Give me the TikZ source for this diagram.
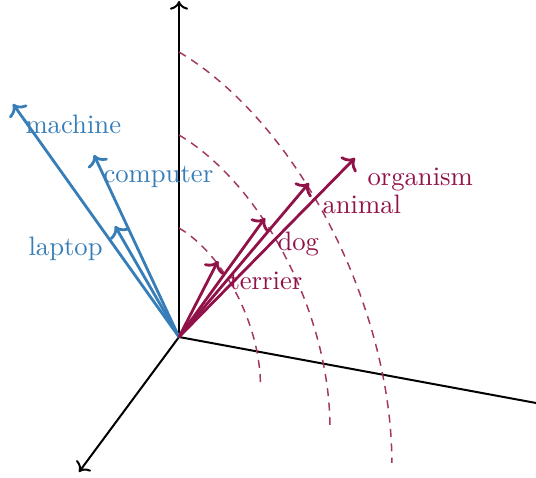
\documentclass[tikz,border=0pt]{standalone}
\usepackage{amsmath,amssymb}
\usepackage{tikz}
\usetikzlibrary{arrows.meta, positioning, calc}

\definecolor{techblue}{RGB}{55,126,184}
\definecolor{lifered}{RGB}{145,18,72}

\begin{document}
\begin{tikzpicture}[
  x=0.375pt, y=-0.375pt,
  % --- axes ---
  axis/.style={->, line width=0.75pt, draw=black},
  % --- embedding vectors ---
  bvec/.style={->, line width=1.05pt, draw=techblue},
  rvec/.style={->, line width=1.05pt, draw=lifered},
  % --- labels ---
  blbl/.style={text=techblue, inner sep=0pt, anchor=base west},
  rlbl/.style={text=lifered, inner sep=0pt, anchor=base west},
  % --- guide arcs ---
  guide/.style={dash pattern=on 3pt off 2.4pt, draw=lifered!85, line width=0.55pt},
]
\useasboundingbox (0,0) rectangle (536,478);

% ===================== AXES =====================

\coordinate (O) at (179,337);
\coordinate (zend) at (179,1);
\coordinate (xend) at (548,405.2);
\coordinate (yend) at (79,472);

\draw[axis] (O) -- (zend);
\draw[axis] (O) -- (xend);
\draw[axis] (O) -- (yend);

% ===================== GUIDE ARCS =====================

\foreach \r in {109,202,285}
  \draw[guide] plot[domain=0:90, samples=40, smooth]
    ({179+\r*0.747*sin(\x)}, {337-\r*cos(\x)+\r*0.442*sin(\x)});

% ===================== TECH VECTORS =====================

\coordinate (machine-tip) at (13,104);
\coordinate (computer-tip) at (94,155);
\coordinate (laptop-tip) at (115,226);

\draw[bvec] (O) -- (machine-tip);
\draw[bvec] (O) -- (computer-tip);
\draw[bvec] (O) -- (laptop-tip);

\node[blbl] (machine) at (25,133) {machine};
\node[blbl] (computer) at (103,182) {computer};
\node[blbl] (laptop) at (28,255) {laptop};

% ===================== LIFE VECTORS =====================

\coordinate (organism-tip) at (355,158);
\coordinate (animal-tip) at (309,183);
\coordinate (dog-tip) at (265,218);
\coordinate (terrier-tip) at (218,261);

\draw[rvec] (O) -- (organism-tip);
\draw[rvec] (O) -- (animal-tip);
\draw[rvec] (O) -- (dog-tip);
\draw[rvec] (O) -- (terrier-tip);

\node[rlbl] (organism) at (367,185) {organism};
\node[rlbl] (animal) at (322,213) {animal};
\node[rlbl] (dog) at (277,250) {dog};
\node[rlbl] (terrier) at (229,289) {terrier};

\end{tikzpicture}
\end{document}
